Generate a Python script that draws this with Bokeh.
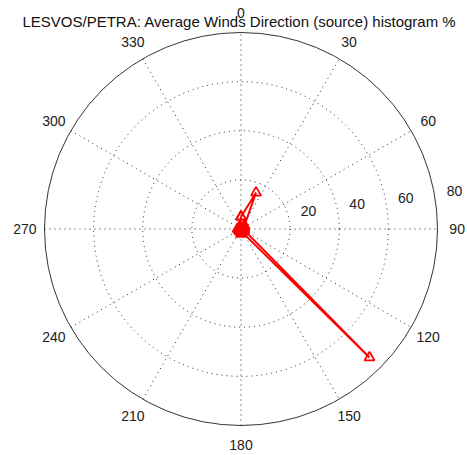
import numpy as np
from bokeh.plotting import figure
from bokeh.models import Range1d, ColumnDataSource
from bokeh.core.properties import value
from bokeh.embed import file_html
from bokeh.resources import INLINE

# ---- data ----
title_text = "LESVOS/PETRA: Average Winds Direction (source) histogram %"
directions = [0, 22.5, 45, 67.5, 90, 112.5, 135, 157.5, 180, 202.5, 225, 247.5, 270, 292.5, 315, 337.5]
percent = [5.0, 16.0, 2.0, 1.5, 1.2, 1.5, 74.0, 1.5, 2.0, 1.2, 1.0, 1.0, 1.4, 0.8, 0.8, 1.2]
ring_values = [20, 40, 60, 80]
angle_ticks = [0, 30, 60, 90, 120, 150, 180, 210, 240, 270, 300, 330]
rmax = 80

# ---- figure ----
W, H = 467, 455
px = 196.5 / rmax          # pixels per unit
cx, cy = 240.5, 228.5      # centre in figure pixels
p = figure(width=W, height=H, output_backend="svg", toolbar_location=None,
           x_range=Range1d(-cx / px, (W - cx) / px),
           y_range=Range1d(-(H - cy) / px, cy / px),
           x_axis_location=None, y_axis_location=None,
           min_border=0, outline_line_color=None)
p.grid.visible = False
p.background_fill_color = "white"
p.border_fill_color = "white"

font = value("Liberation Sans")

# spokes (dotted, full diameter)
for a in range(0, 180, 30):
    t = np.deg2rad(a)
    p.line([-rmax * np.sin(t), rmax * np.sin(t)], [-rmax * np.cos(t), rmax * np.cos(t)],
           line_color="black", line_width=1, line_dash="1 4", line_alpha=0.85)

# rings
for v in ring_values[:-1]:
    p.circle(x=[0], y=[0], radius=v, fill_color=None, line_color="black",
             line_width=1, line_dash="1 4", line_alpha=0.85)
p.circle(x=[0], y=[0], radius=rmax, fill_color=None, line_color="#333333", line_width=1)

# ring labels
rl_r = np.array(ring_values) + 1.0
a8 = np.deg2rad(8)
p.text(x=list(rl_r * np.cos(a8)), y=list(rl_r * np.sin(a8)), text=[str(v) for v in ring_values],
       x_offset=16.4, y_offset=-10.5, text_align="center", text_baseline="middle",
       text_font=font, text_font_size="14px", text_color="#222222")

# angle labels
th = np.deg2rad(angle_ticks)
lr = rmax * 1.1
p.text(x=list(lr * np.sin(th)), y=list(lr * np.cos(th)), text=[str(a) for a in angle_ticks],
       text_align="center", text_baseline="middle",
       text_font=font, text_font_size="14px", text_color="#222222")

# data (closed polygon)
d = np.deg2rad(directions + directions[:1])
r = np.array(percent + percent[:1])
src = ColumnDataSource(dict(x=r * np.sin(d), y=r * np.cos(d)))
p.line("x", "y", source=src, line_color="red", line_width=2)
p.scatter("x", "y", source=src, marker="triangle", size=10, fill_color=None,
          line_color="red", line_width=1.8)

# title
p.text(x=[(239 - cx) / px], y=[(cy - 20.7) / px], text=[title_text],
       text_align="center", text_baseline="alphabetic",
       text_font=font, text_font_size="15px", text_color="#111111")

open("out.html", "w").write(file_html(p, INLINE))
